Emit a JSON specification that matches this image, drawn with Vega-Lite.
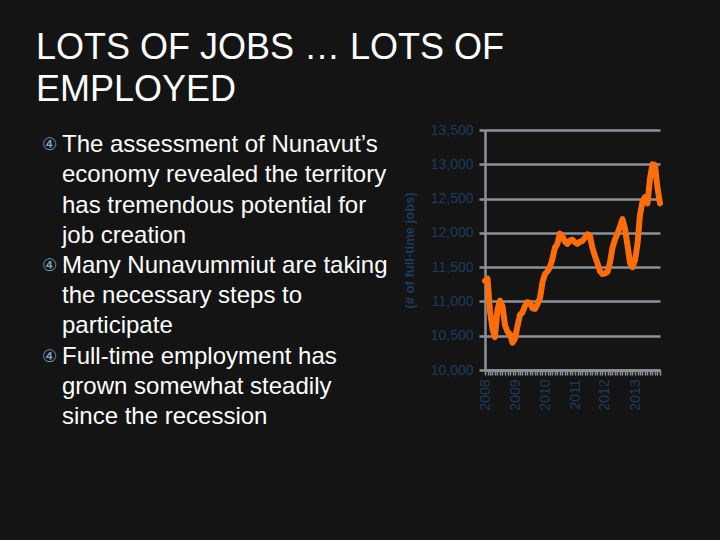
{
  "$schema": "https://vega.github.io/schema/vega-lite/v6.json",
  "background": "#141414",
  "padding": {"left": 36, "top": 30, "right": 53, "bottom": 108},
  "title": {
    "text": ["LOTS OF JOBS … LOTS OF", "EMPLOYED"],
    "anchor": "start",
    "color": "white",
    "font": "Liberation Sans",
    "fontSize": 36,
    "fontWeight": "normal",
    "lineHeight": 42,
    "offset": 14
  },
  "config": {"view": {"stroke": null}},
  "spacing": 12,
  "hconcat": [
    {
      "width": 355,
      "height": 302,
      "data": {
        "values": [
          {"line": 1, "bullet": "④", "text": "The assessment of Nunavut’s"},
          {"line": 2, "bullet": "", "text": "economy revealed the territory"},
          {"line": 3, "bullet": "", "text": "has tremendous potential for"},
          {"line": 4, "bullet": "", "text": "job creation"},
          {"line": 5, "bullet": "④", "text": "Many Nunavummiut are taking"},
          {"line": 6, "bullet": "", "text": "the necessary steps to"},
          {"line": 7, "bullet": "", "text": "participate"},
          {"line": 8, "bullet": "④", "text": "Full-time employment has"},
          {"line": 9, "bullet": "", "text": "grown somewhat steadily"},
          {"line": 10, "bullet": "", "text": "since the recession"}
        ]
      },
      "encoding": {
        "x": {"datum": 0, "type": "quantitative", "scale": {"domain": [0, 1]}, "axis": null},
        "y": {"field": "line", "type": "ordinal", "scale": {"type": "point", "padding": 0.5}, "axis": null}
      },
      "layer": [
        {
          "mark": {"type": "text", "align": "left", "baseline": "middle", "dx": 6, "font": "DejaVu Sans", "fontSize": 17, "color": "#7fa3c4"},
          "encoding": {"text": {"field": "bullet"}}
        },
        {
          "mark": {"type": "text", "align": "left", "baseline": "middle", "dx": 26, "font": "Liberation Sans", "fontSize": 24, "color": "white"},
          "encoding": {"text": {"field": "text"}}
        }
      ]
    },
    {
      "width": 175,
      "height": 240,
      "data": {
        "values": [
          {"month": "2008-01", "jobs": 11300},
          {"month": "2008-02", "jobs": 11330},
          {"month": "2008-03", "jobs": 10870},
          {"month": "2008-04", "jobs": 10600},
          {"month": "2008-05", "jobs": 10480},
          {"month": "2008-06", "jobs": 10880},
          {"month": "2008-07", "jobs": 11010},
          {"month": "2008-08", "jobs": 10930},
          {"month": "2008-09", "jobs": 10650},
          {"month": "2008-10", "jobs": 10560},
          {"month": "2008-11", "jobs": 10520},
          {"month": "2008-12", "jobs": 10400},
          {"month": "2009-01", "jobs": 10460},
          {"month": "2009-02", "jobs": 10650},
          {"month": "2009-03", "jobs": 10800},
          {"month": "2009-04", "jobs": 10840},
          {"month": "2009-05", "jobs": 10930},
          {"month": "2009-06", "jobs": 10990},
          {"month": "2009-07", "jobs": 10980},
          {"month": "2009-08", "jobs": 10900},
          {"month": "2009-09", "jobs": 10890},
          {"month": "2009-10", "jobs": 10960},
          {"month": "2009-11", "jobs": 11050},
          {"month": "2009-12", "jobs": 11280},
          {"month": "2010-01", "jobs": 11400},
          {"month": "2010-02", "jobs": 11440},
          {"month": "2010-03", "jobs": 11500},
          {"month": "2010-04", "jobs": 11620},
          {"month": "2010-05", "jobs": 11780},
          {"month": "2010-06", "jobs": 11840},
          {"month": "2010-07", "jobs": 11990},
          {"month": "2010-08", "jobs": 11950},
          {"month": "2010-09", "jobs": 11870},
          {"month": "2010-10", "jobs": 11840},
          {"month": "2010-11", "jobs": 11890},
          {"month": "2010-12", "jobs": 11900},
          {"month": "2011-01", "jobs": 11860},
          {"month": "2011-02", "jobs": 11840},
          {"month": "2011-03", "jobs": 11870},
          {"month": "2011-04", "jobs": 11880},
          {"month": "2011-05", "jobs": 11930},
          {"month": "2011-06", "jobs": 11980},
          {"month": "2011-07", "jobs": 11960},
          {"month": "2011-08", "jobs": 11780},
          {"month": "2011-09", "jobs": 11660},
          {"month": "2011-10", "jobs": 11560},
          {"month": "2011-11", "jobs": 11440},
          {"month": "2011-12", "jobs": 11400},
          {"month": "2012-01", "jobs": 11410},
          {"month": "2012-02", "jobs": 11430},
          {"month": "2012-03", "jobs": 11560},
          {"month": "2012-04", "jobs": 11780},
          {"month": "2012-05", "jobs": 11900},
          {"month": "2012-06", "jobs": 11990},
          {"month": "2012-07", "jobs": 12090},
          {"month": "2012-08", "jobs": 12200},
          {"month": "2012-09", "jobs": 12060},
          {"month": "2012-10", "jobs": 11820},
          {"month": "2012-11", "jobs": 11560},
          {"month": "2012-12", "jobs": 11500},
          {"month": "2013-01", "jobs": 11600},
          {"month": "2013-02", "jobs": 11850},
          {"month": "2013-03", "jobs": 12250},
          {"month": "2013-04", "jobs": 12450},
          {"month": "2013-05", "jobs": 12520},
          {"month": "2013-06", "jobs": 12430},
          {"month": "2013-07", "jobs": 12780},
          {"month": "2013-08", "jobs": 13000},
          {"month": "2013-09", "jobs": 12990},
          {"month": "2013-10", "jobs": 12660},
          {"month": "2013-11", "jobs": 12430}
        ],
        "format": {"parse": {"month": "utc:'%Y-%m'"}}
      },
      "mark": {"type": "line", "color": "#ff6c0a", "strokeWidth": 6, "strokeJoin": "round", "strokeCap": "round"},
      "encoding": {
        "x": {
          "field": "month",
          "type": "temporal",
          "scale": {
            "type": "utc",
            "domain": [
              {"year": 2008, "month": 1, "date": 1, "utc": true},
              {"year": 2013, "month": 11, "date": 1, "utc": true}
            ]
          },
          "axis": {
            "title": null,
            "grid": false,
            "tickCount": {"interval": "month", "step": 1},
            "labelExpr": "utcmonth(datum.value) == 0 ? utcFormat(datum.value, '%Y') : ''",
            "labelOverlap": false,
            "labelAngle": -90,
            "labelAlign": "right",
            "labelBaseline": "middle",
            "labelFont": "Liberation Sans",
            "labelFontSize": 14,
            "labelColor": "#1e3a5c",
            "labelPadding": 4,
            "domainColor": "#8e9099",
            "domainWidth": 2.5,
            "tickColor": "#8e9099",
            "tickWidth": 1.5,
            "tickSize": 5
          }
        },
        "y": {
          "field": "jobs",
          "type": "quantitative",
          "scale": {"domain": [10000, 13500]},
          "axis": {
            "title": "(# of full-time jobs)",
            "titleColor": "#1d3a61",
            "titleFont": "Liberation Sans",
            "titleFontSize": 13,
            "titleFontWeight": "bold",
            "titlePadding": 14,
            "values": [10000, 10500, 11000, 11500, 12000, 12500, 13000, 13500],
            "format": ",d",
            "labelFont": "Liberation Sans",
            "labelFontSize": 14,
            "labelColor": "#1e3a5c",
            "labelPadding": 6,
            "grid": true,
            "gridColor": "#8e9099",
            "gridWidth": 2.5,
            "domainColor": "#8e9099",
            "domainWidth": 2.5,
            "tickColor": "#8e9099",
            "tickWidth": 2.5,
            "tickSize": 6
          }
        }
      }
    }
  ]
}
